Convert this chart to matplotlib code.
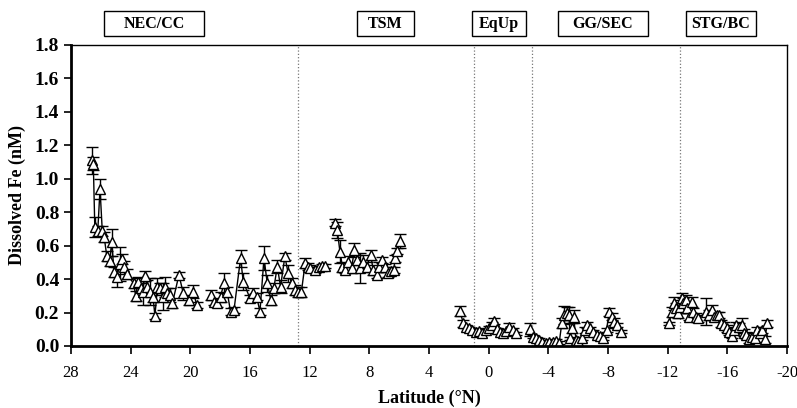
import matplotlib.pyplot as plt
from matplotlib.patches import Rectangle

plt.rcParams['font.family'] = ['Liberation Serif', 'DejaVu Serif']
plt.rcParams['axes.unicode_minus'] = False

# NEC/CC + TSM leg (first continuous run)
lat_a = [26.6, 26.5, 26.4, 26.2, 26.05, 25.9, 25.77, 25.6, 25.4, 25.27, 25.1, 24.94, 24.7, 24.6,
         24.45, 24.27, 23.8, 23.66, 23.5, 23.33, 23.2, 23.04, 22.9, 22.7, 22.5, 22.37, 22.2, 22.03,
         21.85, 21.7, 21.55, 21.37, 21.2, 20.76, 20.47, 20.1, 19.8, 19.57]
fe_a = [1.11, 1.09, 0.71, 0.69, 0.94, 0.69, 0.65, 0.54, 0.51, 0.62, 0.44, 0.41, 0.49, 0.52,
        0.47, 0.43, 0.375, 0.30, 0.385, 0.345, 0.325, 0.42, 0.355, 0.325, 0.295, 0.18, 0.355, 0.345,
        0.295, 0.355, 0.315, 0.305, 0.255, 0.425, 0.315, 0.275, 0.325, 0.245]
err_a = [0.08, 0.04, 0.06, 0.03, 0.06, 0.03, 0.03, 0.03, 0.03, 0.08, 0.03, 0.06, 0.10, 0.03,
         0.04, 0.03, 0.03, 0.03, 0.03, 0.03, 0.08, 0.03, 0.04, 0.08, 0.03, 0.02, 0.05, 0.03,
         0.08, 0.06, 0.03, 0.04, 0.03, 0.02, 0.04, 0.03, 0.04, 0.02]

lat_b = [18.64, 18.42, 18.2, 17.97, 17.75, 17.53, 17.3, 17.07, 16.63, 16.45, 16.0, 15.78, 15.55,
         15.33, 15.06, 14.84, 14.6, 14.4, 14.17, 13.95, 13.66, 13.44, 13.2, 13.0, 12.77, 12.55,
         12.3, 12.1, 11.98, 11.65, 11.4, 11.2, 10.98]
fe_b = [0.305, 0.265, 0.255, 0.295, 0.375, 0.325, 0.205, 0.215, 0.525, 0.385, 0.285, 0.315, 0.295,
        0.205, 0.525, 0.375, 0.275, 0.345, 0.475, 0.355, 0.535, 0.435, 0.375, 0.335, 0.325, 0.325,
        0.495, 0.475, 0.465, 0.455, 0.47, 0.478, 0.478]
err_b = [0.03, 0.02, 0.02, 0.03, 0.06, 0.03, 0.02, 0.02, 0.05, 0.05, 0.02, 0.03, 0.02,
         0.02, 0.07, 0.05, 0.03, 0.03, 0.04, 0.04, 0.02, 0.05, 0.03, 0.03, 0.03, 0.03,
         0.03, 0.02, 0.02, 0.02, 0.01, 0.01, 0.01]

lat_c = [10.3, 10.15, 9.97, 9.8, 9.64, 9.41, 9.19, 9.0, 8.8, 8.63, 8.4, 8.18, 7.91, 7.74, 7.5,
         7.34, 7.14, 6.95, 6.77, 6.57, 6.35, 6.28, 6.13, 5.95]
fe_c = [0.737, 0.694, 0.564, 0.475, 0.455, 0.505, 0.465, 0.574, 0.514, 0.465, 0.505, 0.475, 0.544,
        0.455, 0.425, 0.475, 0.514, 0.47, 0.435, 0.45, 0.455, 0.525, 0.568, 0.628]
err_c = [0.02, 0.05, 0.07, 0.03, 0.02, 0.03, 0.03, 0.04, 0.03, 0.09, 0.04, 0.03, 0.03,
         0.03, 0.02, 0.03, 0.02, 0.02, 0.02, 0.02, 0.02, 0.02, 0.02, 0.04]

# EqUp
lat_d = [1.93, 1.7, 1.53, 1.33, 1.1, 0.88, 0.66, 0.43, 0.2, 0.0, -0.2, -0.37, -0.53, -0.75, -0.97,
         -1.15, -1.38, -1.6, -1.83]
fe_d = [0.21, 0.135, 0.115, 0.105, 0.095, 0.085, 0.09, 0.08, 0.095, 0.11, 0.125, 0.15, 0.1, 0.085,
        0.076, 0.09, 0.115, 0.095, 0.076]
err_d = [0.03, 0.02, 0.01, 0.01, 0.01, 0.01, 0.01, 0.01, 0.01, 0.01, 0.02, 0.02, 0.01, 0.01,
         0.01, 0.01, 0.02, 0.01, 0.01]

# GG/SEC
lat_e = [-2.8, -2.94, -3.17, -3.4, -3.6, -3.84, -4.06, -4.3, -4.5, -4.73, -4.9, -5.04, -5.22,
         -5.4, -5.45, -5.56, -5.7, -5.85, -6.0, -6.23, -6.45, -6.6, -6.8, -7.0, -7.23, -7.45,
         -7.68, -7.9, -8.08, -8.24, -8.4, -8.57, -8.9]
fe_e = [0.1, 0.056, 0.046, 0.036, 0.026, 0.02, 0.026, 0.026, 0.032, 0.02, 0.135, 0.185, 0.195,
        0.185, 0.046, 0.105, 0.175, 0.036, 0.032, 0.046, 0.095, 0.125, 0.105, 0.085, 0.066, 0.06,
        0.046, 0.095, 0.205, 0.175, 0.145, 0.125, 0.085]
err_e = [0.04, 0.01, 0.01, 0.01, 0.01, 0.01, 0.01, 0.01, 0.01, 0.01, 0.03, 0.055, 0.04,
         0.05, 0.01, 0.03, 0.04, 0.01, 0.01, 0.01, 0.02, 0.02, 0.01, 0.01, 0.01, 0.01,
         0.01, 0.01, 0.025, 0.02, 0.02, 0.01, 0.01]

# STG/BC
lat_f = [-12.1, -12.26, -12.4, -12.54, -12.7, -12.8, -12.93, -13.04, -13.2, -13.3, -13.44, -13.6,
         -13.7, -13.87, -14.04, -14.6, -14.78, -14.94, -15.1, -15.28, -15.45, -15.6, -15.77,
         -15.95, -16.1, -16.28, -16.44, -16.6, -16.8, -16.95, -17.13, -17.28, -17.46, -17.62,
         -17.84, -18.0, -18.17, -18.35, -18.5, -18.67]
fe_f = [0.135, 0.205, 0.255, 0.225, 0.195, 0.235, 0.285, 0.255, 0.275, 0.225, 0.175, 0.265,
        0.205, 0.175, 0.165, 0.205, 0.185, 0.215, 0.175, 0.185, 0.185, 0.135, 0.125,
        0.105, 0.085, 0.06, 0.095, 0.125, 0.115, 0.125, 0.08, 0.066, 0.04, 0.056,
        0.046, 0.095, 0.076, 0.095, 0.04, 0.135]
err_f = [0.01, 0.03, 0.04, 0.03, 0.03, 0.04, 0.03, 0.03, 0.03, 0.03, 0.02, 0.03,
         0.02, 0.02, 0.02, 0.08, 0.03, 0.03, 0.02, 0.02, 0.02, 0.02, 0.02,
         0.02, 0.02, 0.01, 0.02, 0.02, 0.02, 0.045, 0.02, 0.02, 0.02, 0.02,
         0.02, 0.02, 0.02, 0.02, 0.02, 0.02]

boundaries = [12.8, 1.0, -2.9, -12.8]
region_names = ['NEC/CC', 'TSM', 'EqUp', 'GG/SEC', 'STG/BC']

fig = plt.figure(figsize=(7.97, 4.08), dpi=100)
ax = fig.add_axes([0.089, 0.152, 0.8985, 0.738])

for lat, fe, err in [(lat_a, fe_a, err_a), (lat_b, fe_b, err_b), (lat_c, fe_c, err_c),
                     (lat_d, fe_d, err_d), (lat_e, fe_e, err_e), (lat_f, fe_f, err_f)]:
    ax.errorbar(lat, fe, yerr=err, fmt='-^', color='black', mfc='white', mec='black',
                ms=7, lw=1.0, elinewidth=1.0, capsize=4, capthick=1.0, mew=1.0)

for b in boundaries:
    ax.axvline(b, color='#777777', ls=':', lw=0.9, zorder=0)

ax.set_xlim(28, -20)
ax.set_ylim(0, 1.8)
ax.set_xticks(range(28, -21, -4))
ax.set_yticks([0.0, 0.2, 0.4, 0.6, 0.8, 1.0, 1.2, 1.4, 1.6, 1.8])
ax.set_yticklabels(['%.1f' % v for v in ax.get_yticks()], fontweight='bold')
ax.tick_params(axis='x', direction='out', length=6, width=1.2, labelsize=12, pad=8)
ax.tick_params(axis='y', direction='out', length=5, width=1.2, labelsize=14)
for s in ['left', 'bottom']:
    ax.spines[s].set_linewidth(2)
for s in ['top', 'right']:
    ax.spines[s].set_linewidth(1)
ax.set_xlabel('Latitude (°N)', fontsize=13, fontweight='bold', labelpad=6)
ax.set_ylabel('Dissolved Fe (nM)', fontsize=13, fontweight='bold', labelpad=6)

# region boxes above the plot (pixel layout)
box_px = [(104, 204), (357, 414), (472, 526), (558, 648), (686, 756)]
for name, (x0, x1) in zip(region_names, box_px):
    fig.patches.append(Rectangle((x0 / 797, 1 - 36 / 408), (x1 - x0) / 797, 25 / 408,
                                 transform=fig.transFigure, fill=False, lw=1, ec='black'))
    fig.text((x0 + x1) / 2 / 797, 1 - 23.5 / 408, name, ha='center', va='center',
             fontsize=11.5, fontweight='bold')

fig.savefig('out.png', dpi=100)
